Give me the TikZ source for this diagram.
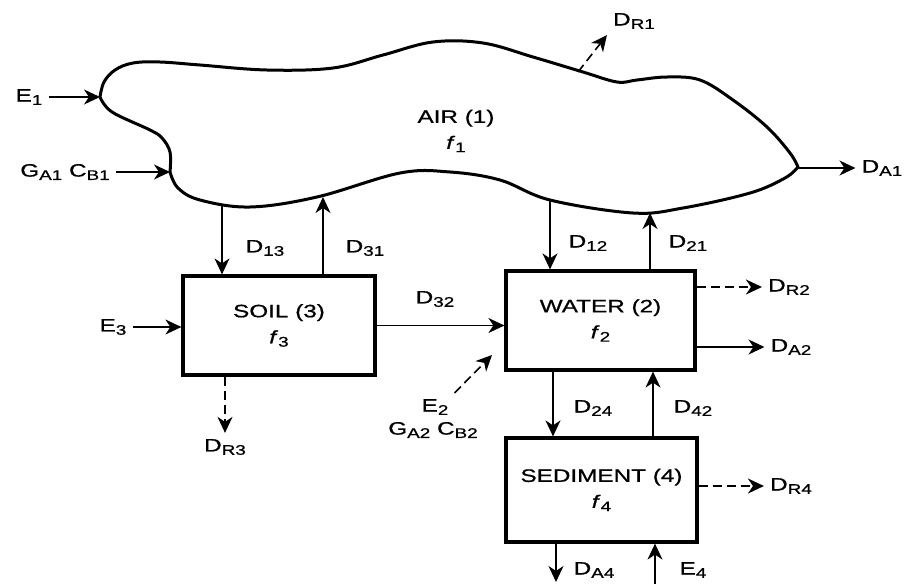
\documentclass[tikz,border=0pt]{standalone}
\usepackage{fontspec}
\setmainfont{Liberation Sans}[FakeStretch=1.35, FakeBold=0.8]
\usetikzlibrary{arrows.meta}

% Subscript as in the labels
\newcommand{\sbs}[1]{\raisebox{-0.35ex}{\fontsize{14}{14}\selectfont #1}}

\begin{document}
\begin{tikzpicture}[x=1pt, y=-1pt, font=\fontsize{18}{26}\selectfont,
    box/.style={draw, line width=3.2pt, align=center, inner sep=0pt},
    flow/.style={line width=1.6pt, -{Stealth[length=16pt, width=15pt, inset=5pt]}},
    loss/.style={flow, dash pattern=on 9pt off 5pt},
    lbl/.style={inner sep=6pt}]

    \useasboundingbox (0,0) rectangle (908,584);

    % Define points on the air boundary
    \coordinate (airW) at (100,97);
    \coordinate (airSW) at (170,172);
    \coordinate (airE) at (798,168);
    \coordinate (airR) at (578,72);
    \coordinate (b13) at (222,204);
    \coordinate (b31) at (323,197);
    \coordinate (b12) at (550,200);
    \coordinate (b21) at (650,213);

    % Draw the air compartment
    \draw[line width=3pt, line join=round]
        plot[smooth, tension=0.6] coordinates {(100,97) (104,82) (115,70) (133,63) (160,62) (200,65) (267,70) (333,68) (383,55) (433,42) (483,43) (533,57) (583,72) (617,82) (637,80) (667,77) (700,80) (733,100) (767,127) (790,153) (798,167)}
        -- plot[smooth, tension=0.6] coordinates {(798,167) (785,178) (750,193) (683,208) (633,213) (550,200) (500,180) (450,172) (400,173) (317,197) (250,207) (200,200) (178,188) (170,172)}
        -- plot[smooth, tension=0.6] coordinates {(170,172) (170,152) (162,138) (150,130) (112,112) (100,97)};
    \node[align=center] (air) at (456,131) {AIR (1)\\\textit{f}\sbs{1}};

    % Draw the boxes
    \node[box, minimum width=192pt, minimum height=99pt] (soil) at (279,325.5) {SOIL (3)\\\textit{f}\sbs{3}};
    \node[box, minimum width=189pt, minimum height=99pt] (water) at (600.5,320.5) {WATER (2)\\\textit{f}\sbs{2}};
    \node[box, minimum width=191pt, minimum height=104pt] (sediment) at (601.5,490) {SEDIMENT (4)\\\textit{f}\sbs{4}};

    % Labels
    \node[lbl] (e1) at (29,97) {E\sbs{1}};
    \node[lbl] (ga1) at (65,172) {G\sbs{A1} C\sbs{B1}};
    \node[lbl] (dR1) at (634,21) {D\sbs{R1}};
    \node[lbl] (dA1) at (882,168) {D\sbs{A1}};
    \node[lbl] (d13) at (265,248) {D\sbs{13}};
    \node[lbl] (d31) at (365,248) {D\sbs{31}};
    \node[lbl] (d12) at (588,243) {D\sbs{12}};
    \node[lbl] (d21) at (688,243) {D\sbs{21}};
    \node[lbl] (e3) at (113,327) {E\sbs{3}};
    \node[lbl] (d32) at (435,299) {D\sbs{32}};
    \node[lbl] (dR3) at (225,447) {D\sbs{R3}};
    \node[lbl] (e2) at (435,407) {E\sbs{2}};
    \node[lbl] (ga2) at (433,430) {G\sbs{A2} C\sbs{B2}};
    \node[lbl] (dR2) at (789,287) {D\sbs{R2}};
    \node[lbl] (dA2) at (791,347) {D\sbs{A2}};
    \node[lbl] (d24) at (593,408) {D\sbs{24}};
    \node[lbl] (d42) at (693,408) {D\sbs{42}};
    \node[lbl] (dR4) at (791,486) {D\sbs{R4}};
    \node[lbl] (dA4) at (594,570) {D\sbs{A4}};
    \node[lbl] (e4) at (693,570) {E\sbs{4}};

    % Define free ends
    \coordinate (w2) at (492,355);
    \coordinate (x24) at (553,405);
    \coordinate (x42) at (653,405);
    \coordinate (xA4) at (556,582);
    \coordinate (xE4) at (655,584);

    % Draw the flows
    \draw[flow] (e1) -- (airW);
    \draw[flow] (ga1) -- (airSW);
    \draw[loss] (airR) -- (dR1.south west);
    \draw[flow] (airE) -- (dA1);
    \draw[flow] (b13) -- (b13 |- soil.north);
    \draw[flow] (b31 |- soil.north) -- (b31);
    \draw[flow] (b12) -- (b12 |- water.north);
    \draw[flow] (b21 |- water.north) -- (b21);
    \draw[flow] (e3) -- (e3 -| soil.west);
    \draw[flow] (soil.east) -- (soil.east -| water.west);
    \draw[loss] (soil.south -| dR3) -- (dR3);
    \draw[loss] (e2.north east) -- (w2);
    \draw[loss] (water.east |- dR2) -- (dR2);
    \draw[flow] (water.east |- dA2) -- (dA2);
    \draw[flow] (x24 |- water.south) -- (x24 |- sediment.north);
    \draw[flow] (x42 |- sediment.north) -- (x42 |- water.south);
    \draw[loss] (sediment.east |- dR4) -- (dR4);
    \draw[flow] (xA4 |- sediment.south) -- (xA4);
    \draw[flow] (xE4) -- (xE4 |- sediment.south);

\end{tikzpicture}
\end{document}
